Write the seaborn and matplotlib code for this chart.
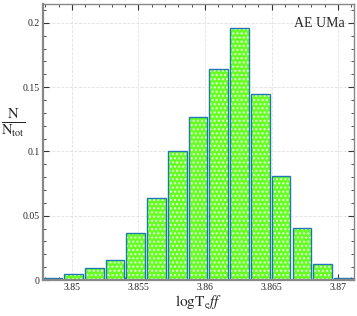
import matplotlib
matplotlib.use("Agg")
import matplotlib.pyplot as plt
import seaborn as sns
import numpy as np
from matplotlib.ticker import MultipleLocator, FuncFormatter

# data
bin_centers = [3.84856, 3.85012, 3.85168, 3.85324, 3.85480, 3.85636, 3.85792,
               3.85948, 3.86104, 3.86260, 3.86416, 3.86572, 3.86728, 3.86884, 3.87040]
fractions = [0.0013, 0.0047, 0.0090, 0.0156, 0.0365, 0.0635, 0.1003,
             0.1270, 0.1638, 0.1957, 0.1449, 0.0809, 0.0407, 0.0122, 0.0016]
bin_width = 0.00156
star_name = "AE UMa"
x_ticks = [3.85, 3.855, 3.86, 3.865, 3.87]
y_ticks = [0, 0.05, 0.1, 0.15, 0.2]

sns.set_style("ticks")
plt.rcParams['font.family'] = ['Liberation Serif', 'DejaVu Serif']
plt.rcParams['mathtext.fontset'] = 'stix'
plt.rcParams['hatch.linewidth'] = 1.0

fig = plt.figure(figsize=(3.57, 3.16), dpi=100)
ax = fig.add_axes([0.1196, 0.1139, 0.872, 0.8734])

edges = [float(v) for v in np.concatenate([[bin_centers[0] - bin_width / 2],
                        np.array(bin_centers) + bin_width / 2])]

sns.histplot(x=bin_centers, weights=fractions, binwidth=bin_width,
             binrange=(edges[0], edges[-1]), shrink=0.9,
             color='#70ff20', alpha=1, linewidth=0, ax=ax)
for p in ax.patches:
    p.set_hatch('....')
    p.set_edgecolor('#e8ffe0')
    p.set_facecolor('#66ff22')
sns.histplot(x=bin_centers, weights=fractions, binwidth=bin_width,
             binrange=(edges[0], edges[-1]), shrink=0.9,
             fill=False, edgecolor='#1a1aff', linewidth=1.0, ax=ax)

ax.set_xlim(3.8478, 3.8712)
ax.set_ylim(0, 0.2146)
ax.set_xticks(x_ticks)
ax.set_yticks(y_ticks)
ax.xaxis.set_minor_locator(MultipleLocator(0.001))
ax.yaxis.set_minor_locator(MultipleLocator(0.01))
ax.xaxis.set_major_formatter(FuncFormatter(lambda v, p: f"{v:g}"))
ax.yaxis.set_major_formatter(FuncFormatter(lambda v, p: "0" if v == 0 else f"{v:g}"))
ax.tick_params(which='both', direction='in', top=True, right=True,
               labelsize=7, color='#333333', pad=2)
ax.tick_params(which='major', length=4, width=0.8)
ax.tick_params(which='minor', length=2, width=0.6)
ax.grid(True, which='major', linestyle='--', color='#e2e2e2', linewidth=0.6)
ax.set_axisbelow(True)
for s in ax.spines.values():
    s.set_color('#888888')
    s.set_linewidth(1.0)
ax.spines['left'].set_linewidth(1.6)
ax.spines['bottom'].set_linewidth(1.6)

ax.set_xlabel(r'$\mathrm{logT}_{\mathrm{e}}\mathit{ff}$', fontsize=11, labelpad=1)
ax.set_ylabel(r'$\frac{\mathrm{N}}{\mathrm{N_{tot}}}$', fontsize=15, rotation=0,
              labelpad=10, va='center')
ax.yaxis.set_label_coords(-0.095, 0.57)
ax.text(0.97, 0.93, star_name, transform=ax.transAxes, ha='right', va='center',
        fontsize=10)

fig.savefig("out.png", dpi=100)
